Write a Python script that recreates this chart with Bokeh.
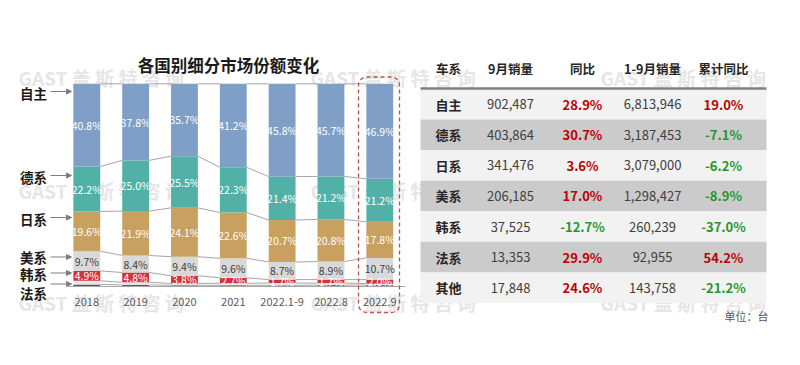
from bokeh.plotting import figure
from bokeh.models import ColumnDataSource, Range1d, Arrow, NormalHead
from bokeh.core.properties import value
from bokeh.embed import file_html
from bokeh.resources import INLINE

# ---------------- data ----------------
categories = ["2018", "2019", "2020", "2021", "2022.1-9", "2022.8", "2022.9"]
share_zizhu = [40.8, 37.8, 35.7, 41.2, 45.8, 45.7, 46.9]
share_de = [22.2, 25.0, 25.5, 22.3, 21.4, 21.2, 21.2]
share_ri = [19.6, 21.9, 24.1, 22.6, 20.7, 20.8, 17.8]
share_mei = [9.7, 8.4, 9.4, 9.6, 8.7, 8.9, 10.7]
share_han = [4.9, 4.8, 3.8, 2.7, 1.7, 1.7, 2.0]
share_fa = [1.0, 0.8, 0.6, 0.6, 0.6, 0.7, 0.7]
share_other = [1.8, 1.3, 0.9, 1.0, 1.1, 1.0, 0.7]

left_labels = ["自主", "德系", "日系", "美系", "韩系", "法系"]

table_headers = ["车系", "9月销量", "同比", "1-9月销量", "累计同比"]
table_series = ["自主", "德系", "日系", "美系", "韩系", "法系", "其他"]
sep_sales = [902487, 403864, 341476, 206185, 37525, 13353, 17848]
sep_yoy = [28.9, 30.7, 3.6, 17.0, -12.7, 29.9, 24.6]
ytd_sales = [6813946, 3187453, 3079000, 1298427, 260239, 92955, 143758]
ytd_yoy = [19.0, -7.1, -6.2, -8.9, -37.0, 54.2, -21.2]
unit_note = "单位：台"
title_text = "各国别细分市场份额变化"
watermark = "GAST 盖 斯 特 咨 询"

FONT = value("Noto Sans CJK SC")

# ---------------- figure / scales ----------------
W, H = 784, 349
ORG = 0          # screen offset of the plot canvas
BAR0 = 86.3      # screen x of first bar centre
STEP = 48.83     # screen px per category
Y0 = 286.0       # screen y of 0 %
PPU = 2.027      # screen px per percent

p = figure(width=W, height=H, output_backend="svg", toolbar_location=None,
           x_range=Range1d((ORG - BAR0) / STEP, (ORG + W - BAR0) / STEP),
           y_range=Range1d((Y0 - (ORG + H)) / PPU, (Y0 - ORG) / PPU),
           x_axis_location=None, y_axis_location=None, min_border=0)
p.outline_line_color = None
p.grid.visible = False
p.background_fill_color = "white"
p.border_fill_color = "white"
p.extra_x_ranges = {"px": Range1d(ORG, ORG + W)}
p.extra_y_ranges = {"py": Range1d(ORG + H, ORG)}

# ---------------- watermark ----------------
wm_x, wm_y = [], []
for yy in [77, 190, 302]:
    for xx in [18, 310, 600]:
        wm_x.append(xx)
        wm_y.append(yy)
p.text(x=wm_x, y=wm_y, text=[watermark] * len(wm_x), x_range_name="px", y_range_name="py",
       text_font=FONT, text_font_size="19px", text_font_style="bold",
       text_color="#e6e6e6", text_baseline="middle", text_align="left")

# ---------------- stacked bars ----------------
idx = list(range(len(categories)))
series_keys = ["fa", "other", "han", "mei", "ri", "de", "zizhu"]
series_vals = [share_fa, share_other, share_han, share_mei, share_ri, share_de, share_zizhu]
colors = ["#595959", "#e6e6e6", "#d3323b", "#d9d9d9", "#c8a160", "#52b1a6", "#809fc6"]
src = ColumnDataSource(dict(x=idx, **{k: v for k, v in zip(series_keys, series_vals)}))
BW = 0.55

# series lines between bars
cum = [0.0] * len(idx)
seg_x0, seg_y0, seg_x1, seg_y1 = [], [], [], []
bottoms = {}
for k, vals in zip(series_keys, series_vals):
    bottoms[k] = list(cum)
    cum = [c + v for c, v in zip(cum, vals)]
    for i in range(len(idx) - 1):
        seg_x0.append(i + BW / 2)
        seg_y0.append(cum[i])
        seg_x1.append(i + 1 - BW / 2)
        seg_y1.append(cum[i + 1])
p.segment(x0=seg_x0, y0=seg_y0, x1=seg_x1, y1=seg_y1, line_color="#a6a6a6", line_width=1)

p.vbar_stack(series_keys, x="x", width=BW, color=colors, source=src, line_color=None)

# baseline
p.segment(x0=[-0.38], y0=[0], x1=[6.52], y1=[0], line_color="#a6a6a6", line_width=1.2)

# value labels
lab_keys = ["han", "mei", "ri", "de", "zizhu"]
lab_colors = ["white", "#404040", "white", "white", "white"]
for k, tc in zip(lab_keys, lab_colors):
    vals = series_vals[series_keys.index(k)]
    ys = [b + v / 2 for b, v in zip(bottoms[k], vals)]
    p.text(x=idx, y=ys, text=[f"{v:.1f}%" for v in vals], text_font=FONT,
           text_font_size="10.5px", text_color=tc, text_align="center", text_baseline="middle")

# category labels
p.text(x=idx, y=[301] * len(idx), y_range_name="py", text=categories, text_font=FONT,
       text_font_size="11px", text_color="#595959", text_align="center", text_baseline="middle")

# left series labels + arrows
lab_y = [92, 176, 218, 256, 273, 292]
arr_y = [91, 175, 217, 256.5, 272.5, 283.5]
p.text(x=[33] * len(left_labels), y=lab_y, text=left_labels, x_range_name="px", y_range_name="py",
       text_font=FONT, text_font_size="13.5px", text_font_style="bold", text_color="#1a1a1a",
       text_align="center", text_baseline="middle")
for ay in arr_y:
    p.add_layout(Arrow(x_start=50, y_start=ay, x_end=71, y_end=ay, x_range_name="px", y_range_name="py",
                       line_color="#7f7f7f", line_width=1,
                       end=NormalHead(size=5, fill_color="#7f7f7f", line_color="#7f7f7f")))

# title
p.text(x=[228], y=[64.5], text=[title_text], x_range_name="px", y_range_name="py",
       text_font=FONT, text_font_size="16.5px", text_font_style="bold", text_color="#1a1a1a",
       text_align="center", text_baseline="middle")

# dashed highlight around last bar
p.quad(left=[358], right=[399], top=[76.5], bottom=[312], x_range_name="px", y_range_name="py",
       fill_color=None, line_color="#c0504d", line_dash="4 3", line_width=1.3, border_radius=8)

# ---------------- table ----------------
TX0, TX1 = 420, 766
HDR_Y = 68
ROW_TOP = 88.5
ROW_H = 30.57
col_x = [448, 510, 582, 652, 723]

n = len(table_series)
tops = [ROW_TOP + ROW_H * i for i in range(n)]
p.quad(left=[TX0] * n, right=[TX1] * n, top=tops, bottom=[t + ROW_H for t in tops],
       x_range_name="px", y_range_name="py",
       fill_color=["#f2f2f2" if i % 2 == 0 else "#cbcbcb" for i in range(n)], line_color=None)
p.segment(x0=[TX0], y0=[ROW_TOP - 0.5], x1=[TX1], y1=[ROW_TOP - 0.5], x_range_name="px", y_range_name="py",
          line_color="#808080", line_width=2.5)

p.text(x=col_x, y=[HDR_Y] * 5, text=table_headers, x_range_name="px", y_range_name="py",
       text_font=FONT, text_font_size="12.5px", text_font_style="bold", text_color="#262626",
       text_align="center", text_baseline="middle")

row_y = [t + ROW_H / 2 for t in tops]
p.text(x=[col_x[0]] * n, y=row_y, text=table_series, x_range_name="px", y_range_name="py",
       text_font=FONT, text_font_size="13px", text_font_style="bold", text_color="#262626",
       text_align="center", text_baseline="middle")
p.text(x=[col_x[1]] * n, y=row_y, text=[f"{v:,}" for v in sep_sales], x_range_name="px", y_range_name="py",
       text_font=FONT, text_font_size="13px", text_color="#404040",
       text_align="center", text_baseline="middle")
p.text(x=[col_x[3]] * n, y=row_y, text=[f"{v:,}" for v in ytd_sales], x_range_name="px", y_range_name="py",
       text_font=FONT, text_font_size="13px", text_color="#404040",
       text_align="center", text_baseline="middle")
RED, GREEN = "#c00000", "#1f9a2a"
p.text(x=[col_x[2]] * n, y=row_y, text=[f"{v:.1f}%" for v in sep_yoy], x_range_name="px", y_range_name="py",
       text_font=FONT, text_font_size="13px", text_font_style="bold",
       text_color=[RED if v >= 0 else GREEN for v in sep_yoy],
       text_align="center", text_baseline="middle")
p.text(x=[col_x[4]] * n, y=row_y, text=[f"{v:.1f}%" for v in ytd_yoy], x_range_name="px", y_range_name="py",
       text_font=FONT, text_font_size="13px", text_font_style="bold",
       text_color=[RED if v >= 0 else GREEN for v in ytd_yoy],
       text_align="center", text_baseline="middle")

p.text(x=[768], y=[315], text=[unit_note], x_range_name="px", y_range_name="py",
       text_font=FONT, text_font_size="11px", text_color="#595959",
       text_align="right", text_baseline="middle")

open("out.html", "w").write(file_html(p, INLINE))
